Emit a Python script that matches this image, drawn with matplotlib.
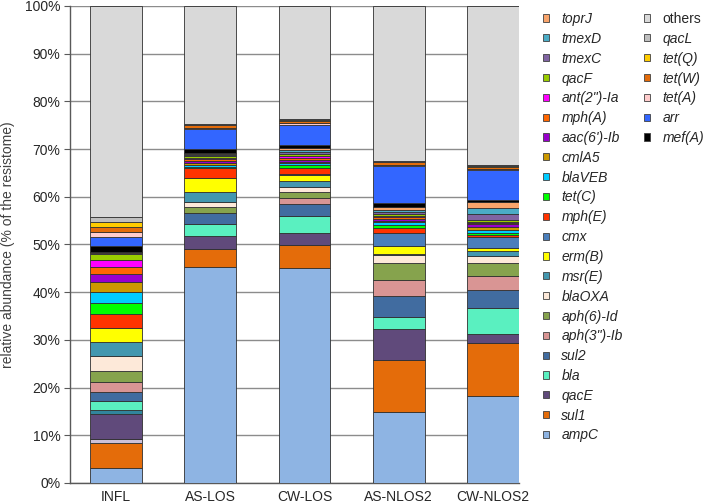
import numpy as np
import matplotlib
matplotlib.use("Agg")
import matplotlib.pyplot as plt
from matplotlib.patches import Patch

plt.rcParams['font.family'] = ['Liberation Sans', 'DejaVu Sans']

samples = ['INFL', 'AS-LOS', 'CW-LOS', 'AS-NLOS2', 'CW-NLOS2']

# stacking order, bottom to top (None = series without legend entry)
genes = ['ampC', 'sul1', None, 'qacE', None, 'bla', 'sul2', 'aph(3")-Ib',
         'aph(6)-Id', 'blaOXA', 'msr(E)', 'erm(B)', 'cmx', 'mph(E)', 'tet(C)',
         'blaVEB', 'cmlA5', "aac(6')-Ib", 'mph(A)', 'ant(2")-Ia', 'qacF',
         'tmexC', 'tmexD', 'toprJ', 'mef(A)', 'arr', 'tet(A)', 'tet(W)',
         'tet(Q)', 'qacL', 'others']

colors = ['#8EB4E3', '#E46C0A', '#CCC1DA', '#604A7B', '#31859C', '#5AF0C0',
          '#416CA0', '#D99594', '#86A34D', '#FDE9D9', '#4397AF', '#FFFF00',
          '#4A7EBB', '#FF3300', '#00FF00', '#00CCFF', '#CC9900', '#9900CC',
          '#FF6600', '#FF00FF', '#99CC00', '#8064A2', '#4BACC6', '#F9A46B',
          '#000000', '#3366FF', '#FFCCCC', '#E46C0A', '#FFCC00', '#BFBFBF',
          '#D9D9D9']

# % of resistome per sample, same order as genes
infl = [3.2, 5.2, 0.9, 5.1, 0.9, 1.9, 1.8, 2.1, 2.4, 3.1, 3.0, 2.9, 0.0, 2.9,
        2.4, 2.2, 2.1, 1.8, 1.4, 1.4, 1.3, 0.2, 0.1, 0.2, 1.2, 1.8, 1.2, 0.9,
        1.2, 0.9, 44.3]
as_los = [45.2, 3.8, 0.0, 2.7, 0.0, 2.5, 2.3, 0.15, 1.2, 1.1, 2.1, 2.8, 0.1,
          2.0, 0.4, 0.4, 0.3, 0.4, 0.4, 0.3, 0.3, 0.3, 0.3, 0.2, 0.8, 4.2,
          0.2, 0.5, 0.2, 0.2, 24.7]
cw_los = [45.0, 4.8, 0.0, 2.7, 0.0, 3.5, 2.4, 1.3, 1.3, 1.0, 1.3, 1.2, 0.2,
          1.4, 0.5, 0.5, 0.3, 0.4, 0.4, 0.3, 0.4, 0.5, 0.5, 0.4, 0.5, 4.3,
          0.3, 0.4, 0.3, 0.3, 23.6]
as_nlos2 = [14.9, 10.8, 0.0, 6.5, 0.0, 2.5, 4.4, 3.5, 3.5, 1.8, 0.2, 1.6, 2.7,
            1.0, 0.6, 0.7, 0.3, 0.3, 0.4, 0.2, 0.4, 0.5, 0.5, 0.6, 0.7, 7.9,
            0.2, 0.5, 0.2, 0.2, 32.4]
cw_nlos2 = [18.2, 11.1, 0.0, 1.9, 0.0, 5.4, 3.9, 3.0, 2.6, 1.4, 1.1, 0.7, 2.3,
            0.3, 0.6, 0.6, 0.6, 0.5, 0.4, 0.2, 0.4, 1.1, 1.4, 1.2, 0.5, 6.2,
            0.3, 0.3, 0.2, 0.2, 33.4]

data = np.array([infl, as_los, cw_los, as_nlos2, cw_nlos2])

fig = plt.figure(figsize=(7.08, 5.03), dpi=100)
ax = fig.add_axes([70 / 708, 1 - 483 / 503, 449 / 708, 477 / 503])

x = np.arange(len(samples))
bottom = np.zeros(len(samples))
for i, g in enumerate(genes):
    ax.bar(x, data[:, i], 0.55, bottom=bottom, color=colors[i],
           edgecolor='#303030', linewidth=0.6, zorder=3)
    bottom += data[:, i]

ax.set_xlim(-0.488, 4.276)
ax.set_ylim(0, 100)
ax.set_yticks(np.arange(0, 101, 10))
ax.set_yticklabels(['%d%%' % v for v in range(0, 101, 10)])
ax.set_xticks(x)
ax.set_xticklabels(samples)
ax.grid(axis='y', color='#8c8c8c', linewidth=1.0, zorder=0)
ax.tick_params(axis='y', length=4, color='#595959', labelsize=10,
               labelcolor='#262626', pad=3)
ax.tick_params(axis='x', length=0, labelsize=10, labelcolor='#262626', pad=5)
for s in ['top', 'right']:
    ax.spines[s].set_visible(False)
for s in ['left', 'bottom']:
    ax.spines[s].set_color('#595959')
    ax.spines[s].set_linewidth(1.0)
ax.set_ylabel('relative abundance (% of the resistome)', fontsize=10,
              color='#404040', labelpad=7)

# legend: two columns, as in the original
col2_names = ['others', 'qacL', 'tet(Q)', 'tet(W)', 'tet(A)', 'arr', 'mef(A)']
col1_names = [g for g in genes[::-1] if g is not None and g not in col2_names]

def handles_for(names):
    hs = []
    for n in names:
        c = colors[genes.index(n)]
        hs.append(Patch(facecolor=c, edgecolor='#404040', linewidth=0.6, label=n))
    return hs

leg_kw = dict(frameon=False, fontsize=10, handlelength=0.42, handleheight=0.42,
              handletextpad=0.9, labelspacing=0.42, borderaxespad=0, borderpad=0)
leg1 = fig.legend(handles=handles_for(col1_names), loc='upper left',
                  bbox_to_anchor=(543 / 708, 1 - 12 / 503), **leg_kw)
for t in leg1.get_texts():
    t.set_fontstyle('italic')
    t.set_color('#262626')
leg2 = fig.legend(handles=handles_for(col2_names), loc='upper left',
                  bbox_to_anchor=(644 / 708, 1 - 12 / 503), **leg_kw)
for t in leg2.get_texts():
    if t.get_text() != 'others':
        t.set_fontstyle('italic')
    t.set_color('#262626')

fig.savefig('out.png', dpi=100)
